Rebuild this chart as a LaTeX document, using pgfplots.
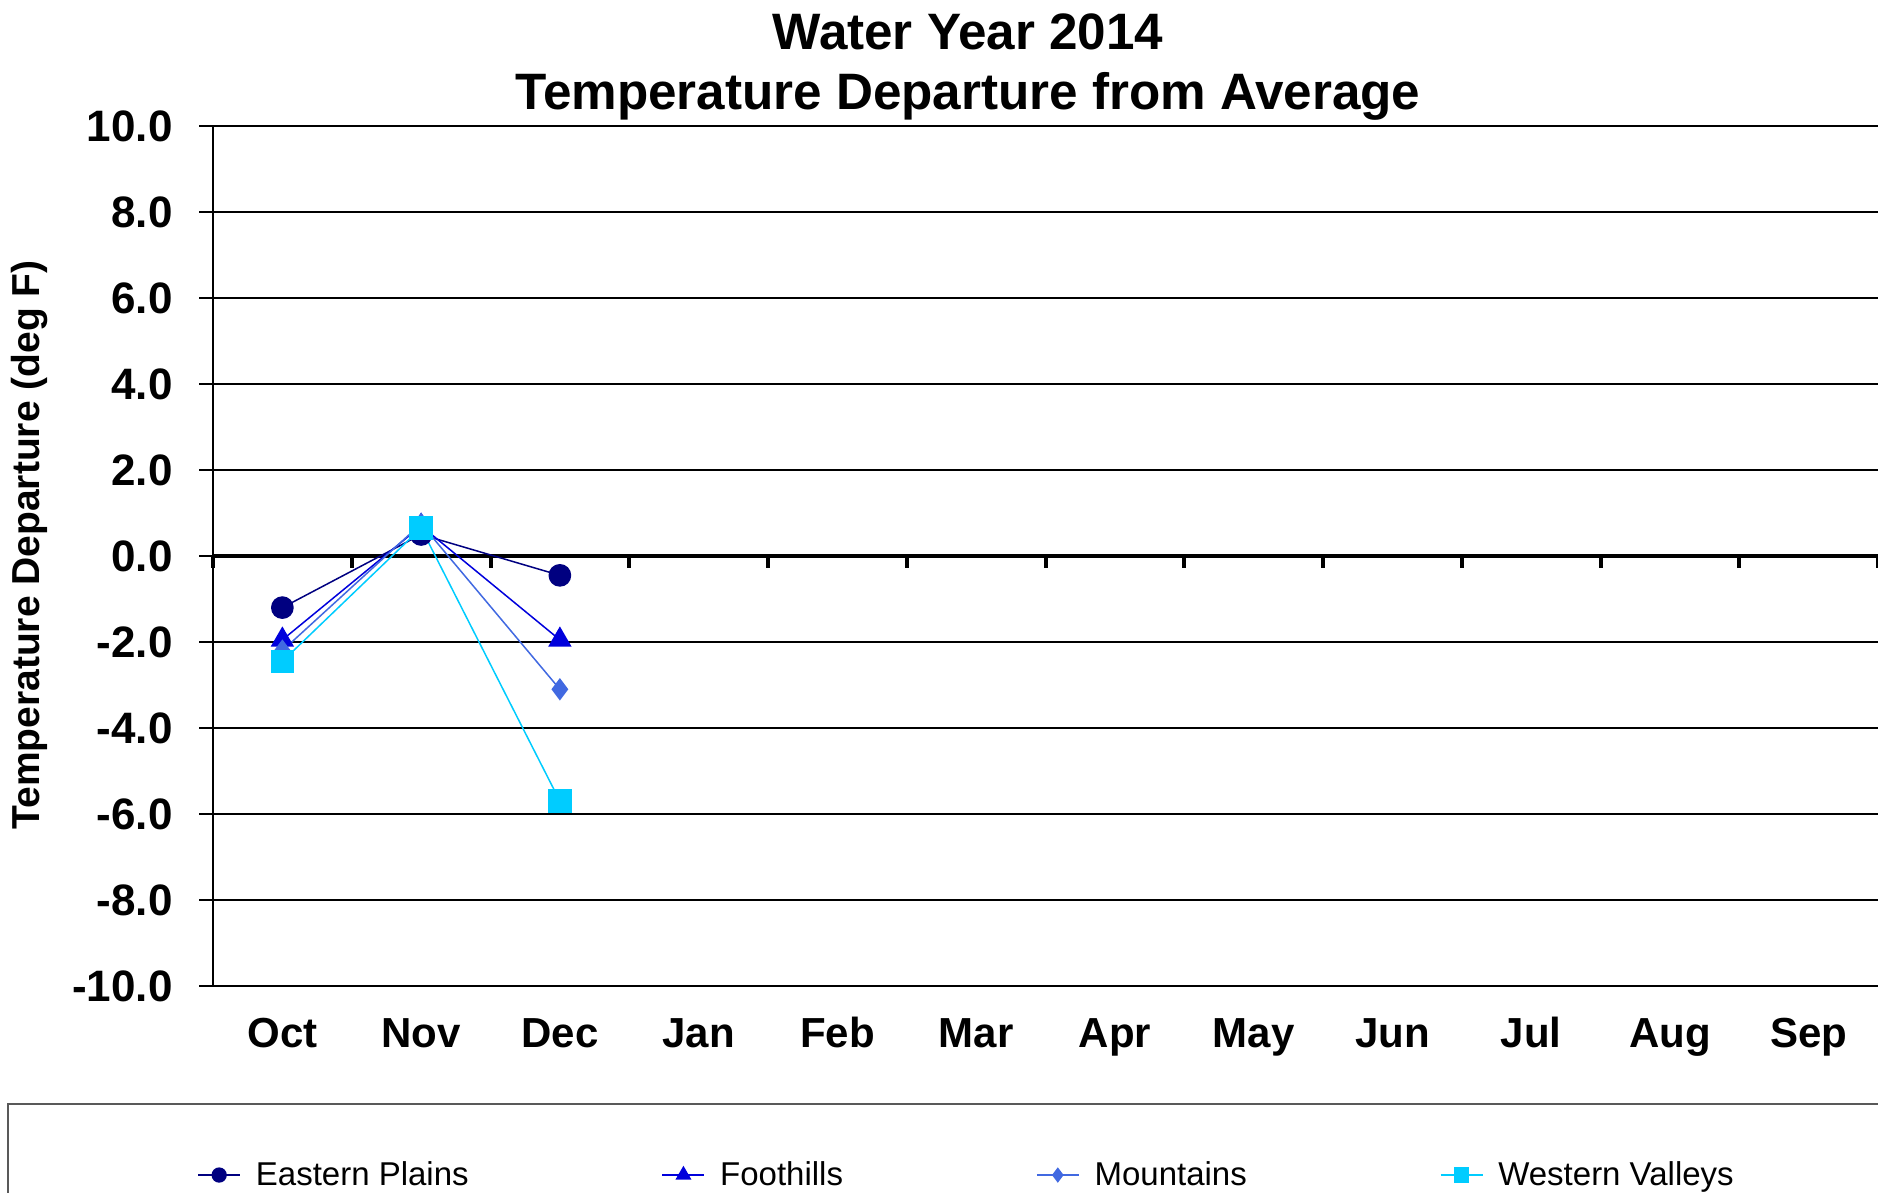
\documentclass[border=0pt]{standalone}
\usepackage{pgfplots}
\pgfplotsset{compat=1.18}
\usepackage{fontspec}
\setmainfont{Liberation Sans}

\definecolor{cPlains}{RGB}{0,0,128}
\definecolor{cFoot}{RGB}{0,0,220}
\definecolor{cMount}{RGB}{65,105,225}
\definecolor{cWest}{RGB}{0,204,255}

\begin{document}
\begin{tikzpicture}
% page frame: 1 px of the reference = 0.5pt
\useasboundingbox (0pt,0pt) rectangle (939pt,-596.5pt);
\node[font=\bfseries\fontsize{25.6}{25.6}\selectfont] at (484pt,-16pt) {Water Year 2014};
\node[font=\bfseries\fontsize{25.6}{25.6}\selectfont] at (484pt,-48pt) {Temperature Departure from Average};
\node[rotate=90, font=\bfseries\fontsize{19.5}{19.5}\selectfont] at (15pt,-272.5pt) {Temperature Departure (deg F)};
\draw[gray!70!black, line width=0.75pt] (4pt,-552pt) rectangle (960pt,-620pt);

\begin{axis}[
    at={(106.5pt,-493pt)}, anchor=south west,
    scale only axis,
    width=832.5pt, height=430pt,
    xmin=0.5, xmax=12.5,
    ymin=-10, ymax=10,
    ytick={-10,-8,...,10},
    xtick={1,...,12},
    xticklabels={Oct,Nov,Dec,Jan,Feb,Mar,Apr,May,Jun,Jul,Aug,Sep},
    axis lines*=left,
    x axis line style={draw=none},
    y axis line style={black, line width=0.75pt},
    xtick style={draw=none},
    ytick style={black, line width=0.75pt},
    tick align=outside,
    major tick length=7pt,
    ymajorgrids=true,
    grid style={black, line width=0.75pt},
    /pgf/number format/assume math mode=true,
    yticklabel={\pgfmathprintnumber[fixed,fixed zerofill,precision=1]{\tick}},
    yticklabel style={font=\bfseries\fontsize{22}{22}\selectfont, anchor=east, inner sep=0pt, xshift=-13pt},
    xticklabel style={font=\bfseries\fontsize{21}{21}\selectfont, anchor=base, inner sep=0pt, yshift=-23.5pt},
    clip=false,
    legend columns=4,
    legend style={draw=none, fill=none, at={(-0.0096,-0.2198)}, anchor=west,
        inner sep=0pt, font=\fontsize{16.5}{16.5}\selectfont,
        nodes={inner sep=0pt},
        /tikz/every odd column/.style={column sep=7.5pt},
        /tikz/every even column/.style={column sep=96.5pt}},
    legend image code/.code={\draw[mark repeat=2, mark phase=2, #1,
        /tikz/every mark/.append style={scale=0.65}]
        plot coordinates {(0pt,0pt) (10.5pt,0pt) (21pt,0pt)};},
]
% zero line with its ticks between months
\draw[black, line width=2pt] (axis cs:0.5,0) -- (axis cs:12.5,0);
\pgfplotsinvokeforeach{0.5,1.5,...,12.5}{
  \draw[black, line width=2pt] (axis cs:#1,0) -- ++(0pt,-6pt);
}

\addplot[cPlains, line width=0.75pt, mark=*, mark size=5.3pt, mark options={fill=cPlains, draw=cPlains}]
  coordinates {(1,-1.2) (2,0.5) (3,-0.45)};
\addlegendentry{Eastern Plains}
\addplot[cFoot, line width=0.75pt, mark=triangle*, mark size=6pt, mark options={fill=cFoot, draw=cFoot}]
  coordinates {(1,-1.95) (2,0.7) (3,-1.95)};
\addlegendentry{Foothills}
\addplot[cMount, line width=0.75pt, mark=diamond*, mark size=5pt, mark options={fill=cMount, draw=cMount}]
  coordinates {(1,-2.2) (2,0.75) (3,-3.1)};
\addlegendentry{Mountains}
\addplot[cWest, line width=0.75pt, mark=square*, mark size=5.5pt, mark options={fill=cWest, draw=cWest}]
  coordinates {(1,-2.45) (2,0.65) (3,-5.7)};
\addlegendentry{Western Valleys}
\end{axis}
\end{tikzpicture}
\end{document}
